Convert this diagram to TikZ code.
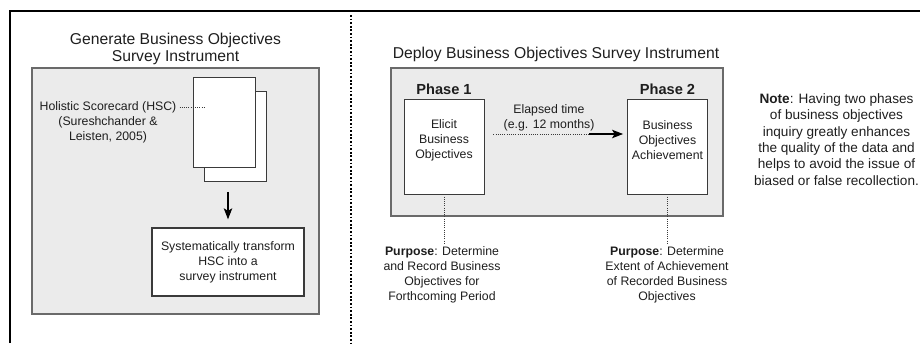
\documentclass[tikz,border=0pt]{standalone}
\usepackage{fontspec}
\setmainfont{Liberation Sans}
\usepackage{xcolor}
\usetikzlibrary{arrows.meta,positioning}

\definecolor{panelfill}{HTML}{EBEBEB}
\definecolor{panelline}{HTML}{6A6A6A}
\definecolor{boxline}{HTML}{3A3A3A}
\definecolor{inktext}{HTML}{1E1E1E}

\newcommand{\bodyfont}{\fontsize{12.3}{15}\selectfont}
\newcommand{\titlefont}{\fontsize{15.7}{17}\selectfont}
\newcommand{\phasefont}{\fontsize{14.6}{17}\selectfont\bfseries}
\newcommand{\notefont}{\fontsize{13.6}{16.4}\selectfont}

\begin{document}
\begin{tikzpicture}[x=1pt,y=-1pt,>={Stealth[length=11pt,width=8.5pt,inset=2.5pt]},
                    text=inktext,
                    panel/.style={draw=panelline,fill=panelfill,line width=1.4pt},
                    page node/.style={draw=boxline,fill=white,line width=0.9pt,minimum width=62pt,minimum height=90pt,inner sep=0pt},
                    phase node/.style={draw=boxline,fill=white,line width=0.9pt,minimum width=80pt,minimum height=95pt,inner sep=0pt},
                    phase label/.style={font=\phasefont,inner sep=1pt},
                    text node/.style={font=\bodyfont,align=center,inner sep=3pt},
                    dot line/.style={draw=boxline,line width=0.9pt,dash pattern=on 1pt off 1.2pt},
                    divider/.style={line width=1.8pt,dash pattern=on 1.8pt off 1.8pt}]

  \useasboundingbox (0,0) rectangle (920,343);
  \draw[line width=2pt] (10,343) -- (10,11) -- (920,11);
  \draw[divider] (351,15) -- (351,343);

  \draw[panel] (32,68) rectangle (319,314);
  \draw[panel] (391,68) rectangle (723,216);

  \node[font=\titlefont,align=center] (gen) at (175.5,48.5) {Generate Business Objectives\\Survey Instrument};
  \node[font=\titlefont] (dep) at (556,54) {Deploy Business Objectives Survey Instrument};

  \node[page node] (back) at (235.5,136.5) {};
  \node[page node] (front) at (224,122.5) {};
  \node[text node] (hsc) at (108,122.5) {Holistic Scorecard (HSC)\\(Sureshchander \&\\Leisten, 2005)};
  \coordinate (hscend) at (204,107);
  \node[text node,draw=boxline,fill=white,line width=1.4pt,minimum width=152pt,minimum height=68pt] (sys) at (228,262)
    {Systematically transform\\HSC into a\\survey instrument};

  \node[phase node] (p1) at (444,146.5) {};
  \node[phase node] (p2) at (667.5,146.5) {};
  \node[phase label,above=2.5pt of p1] (p1lab) {Phase 1};
  \node[phase label,above=2.5pt of p2] (p2lab) {Phase 2};
  \node[text node] (p1txt) at (444,140) {Elicit\\Business\\Objectives};
  \node[text node] (p2txt) at (667.5,140) {Business\\Objectives\\Achievement};
  \node[text node] (ela) at (549,117.5) {Elapsed time\\(e.g. 12 months)};
  \coordinate (elamid) at (589,134);

  \node[text node] (pur1) at (442,274.5) {\textbf{Purpose}: Determine\\and Record Business\\Objectives for\\Forthcoming Period};
  \node[text node] (pur2) at (667,274.5) {\textbf{Purpose}: Determine\\Extent of Achievement\\of Recorded Business\\Objectives};
  \node[text node,font=\notefont] (note) at (836.5,139.5) {\textbf{Note}: Having two phases\\of business objectives\\inquiry greatly enhances\\the quality of the data and\\helps to avoid the issue of\\biased or false recollection.};

  \draw[dot line] (hsc.east |- hscend) -- (hscend);
  \draw[->,line width=1.1pt,shorten <=10pt,shorten >=8pt] (sys.north |- back.south) -- (sys.north);
  \draw[dot line,shorten <=9pt] (p1.east |- elamid) -- (elamid);
  \draw[->,line width=1.2pt,shorten >=4pt] (elamid) -- (p2.west |- elamid);
  \draw[dot line] (p1.south) -- (p1.south |- pur1.north);
  \draw[dot line] (p2.south) -- (p2.south |- pur2.north);
\end{tikzpicture}
\end{document}
